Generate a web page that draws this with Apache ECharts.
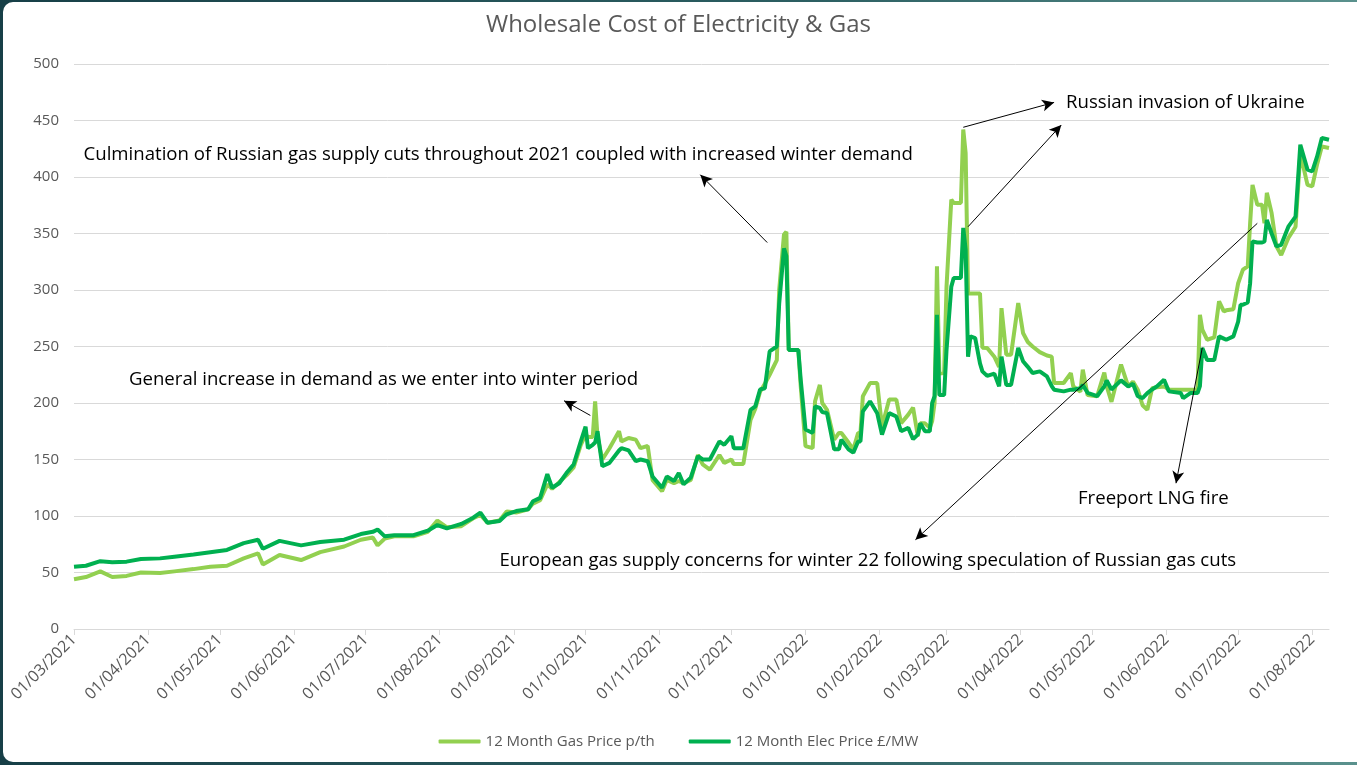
<!DOCTYPE html>
<html><head><meta charset="utf-8">
<script src="https://cdn.jsdelivr.net/npm/echarts@6/dist/echarts.min.js"></script>
<style>
html,body{margin:0;padding:0;width:1357px;height:765px;overflow:hidden;background:linear-gradient(90deg,#173f47 0%,#2c5f62 60%,#5a918d 100%);}
#card{position:absolute;left:3px;top:2px;width:1364px;height:760px;background:#fff;border-radius:10px;}
#chart{position:absolute;left:0;top:0;width:1357px;height:765px;}
</style></head><body>
<div id="card"></div><div id="chart"></div>
<script>
const dates = ['2021-03-01','2021-03-06','2021-03-12','2021-03-17','2021-03-23','2021-03-29','2021-04-06','2021-04-12','2021-04-20','2021-04-27',
'2021-05-04','2021-05-11','2021-05-17','2021-05-19','2021-05-26','2021-06-04','2021-06-12','2021-06-22','2021-06-29','2021-07-04',
'2021-07-06','2021-07-09','2021-07-13','2021-07-21','2021-07-27','2021-07-31','2021-08-04','2021-08-10','2021-08-15','2021-08-18',
'2021-08-21','2021-08-26','2021-08-29','2021-09-02','2021-09-07','2021-09-09','2021-09-12','2021-09-15','2021-09-17','2021-09-20',
'2021-09-23','2021-09-26','2021-09-29','2021-10-01','2021-10-02','2021-10-04','2021-10-05','2021-10-06','2021-10-08','2021-10-11',
'2021-10-15','2021-10-16','2021-10-19','2021-10-22','2021-10-24','2021-10-27','2021-10-29','2021-11-02','2021-11-04','2021-11-07',
'2021-11-09','2021-11-11','2021-11-14','2021-11-17','2021-11-19','2021-11-22','2021-11-26','2021-11-28','2021-12-01','2021-12-02',
'2021-12-06','2021-12-09','2021-12-11','2021-12-13','2021-12-15','2021-12-17','2021-12-20','2021-12-21','2021-12-23','2021-12-24',
'2021-12-25','2021-12-29','2021-12-30','2022-01-01','2022-01-04','2022-01-05','2022-01-07','2022-01-08','2022-01-10','2022-01-13',
'2022-01-15','2022-01-16','2022-01-19','2022-01-21','2022-01-23','2022-01-24','2022-01-25','2022-01-28','2022-01-31','2022-02-02',
'2022-02-05','2022-02-08','2022-02-10','2022-02-13','2022-02-15','2022-02-17','2022-02-18','2022-02-20','2022-02-22','2022-02-23',
'2022-02-24','2022-02-25','2022-02-26','2022-02-28','2022-03-01','2022-03-03','2022-03-04','2022-03-07','2022-03-08','2022-03-09',
'2022-03-10','2022-03-11','2022-03-13','2022-03-15','2022-03-16','2022-03-18','2022-03-21','2022-03-23','2022-03-24','2022-03-26',
'2022-03-28','2022-03-31','2022-04-02','2022-04-04','2022-04-06','2022-04-09','2022-04-12','2022-04-14','2022-04-15','2022-04-19',
'2022-04-22','2022-04-23','2022-04-26','2022-04-27','2022-04-29','2022-05-03','2022-05-06','2022-05-07','2022-05-09','2022-05-13',
'2022-05-16','2022-05-18','2022-05-20','2022-05-22','2022-05-24','2022-05-26','2022-05-28','2022-05-31','2022-06-02','2022-06-07',
'2022-06-08','2022-06-11','2022-06-14','2022-06-15','2022-06-16','2022-06-18','2022-06-21','2022-06-23','2022-06-25','2022-06-26',
'2022-06-29','2022-07-01','2022-07-02','2022-07-03','2022-07-05','2022-07-06','2022-07-07','2022-07-09','2022-07-11','2022-07-12',
'2022-07-13','2022-07-15','2022-07-17','2022-07-19','2022-07-22','2022-07-25','2022-07-27','2022-07-30','2022-08-01','2022-08-03',
'2022-08-05','2022-08-08'];

const gasPrice = [44,46,51,46,47,50,49.5,51,53,55,
56,62.5,67,57,65.5,61,68,73,79,81,
74,80,82,82,86,96,90,91,98,101,
94,96,104,103,106,111,114,128,124,130,
136,143,163,172,170,170,201.5,170,150,160,
175,166,169,167.6,160,162,132,122,132,129,
131,129,132,154,145.6,141,154,147,150,146,
146,185,195,210,217,225,238,300,349,351.5,
247,247,215,161.8,160,201.5,216,200,194,167.6,
173.5,173.5,165,159,173.5,173.5,206,217.6,217.6,179,
203,203,182,189.7,196,170.6,182,182,178,184,
200,321,226,226.5,303,380,377,377,442,421,
297,297,297,297,249,248.7,241,232,284,242.8,
242.8,288.5,262,254,250,245,242,241,217.7,217.7,
226.5,214.7,210,229.5,207,206,227,215,201,234,
214.7,219,211.8,198,194,213,214,214.7,212,211.8,
211.8,211.8,211.8,278,265,256,258,290,281,282,
283,306,312,318,321,359,393,375.5,375.5,359,
386,368,338.6,331,346,356,421,393,391.7,411,
427,425.7];

const elecPrice = [55,56,60,59,59.6,62,62.5,64,66,68,
70,76,79,71,78,74,77,79,84,86,
88,82,83,83,87,92,89,93,98.5,103,
94,95.6,101.5,104.4,106,113,116,137,125,129,
138,145.6,166,179,160,163,165,175,144,147,
158,160,158,148.5,150,148.5,135,125,135,131,
138,128,134,153,150,150,166,163,170.6,160,
160,194,197,212,213,245.6,250,288,336.8,330,
247,247,220.6,176.5,173.5,197,195.6,192,191,159,
159,167.6,159,156,166,166,192.6,201.5,191,172,
191,188,175,178,168,172,182,175,175,200,
206,278,207,207,247,303,310.6,310.6,355,335.7,
241,259,257.5,235,228,224,226,214.7,241,216,
216,248.7,237,232,226.5,228,223.6,215,211.8,210.3,
211.8,211.8,213,216,209,206,214.7,220,212,220,
214.7,217,206,204.4,208.8,212,214.7,220.6,210.3,208.8,
204.4,208.8,208.8,215,248.7,238,238,259,257,256,
259,272,287,287,289,306,343,342,342,343,
362,350,338.6,340,356,365,428.6,406.5,405,418,
434.5,433];

const monthTicks = ['2021-03-01','2021-04-01','2021-05-01','2021-06-01','2021-07-01','2021-08-01','2021-09-01','2021-10-01','2021-11-01',
'2021-12-01','2022-01-01','2022-02-01','2022-03-01','2022-04-01','2022-05-01','2022-06-01','2022-07-01','2022-08-01'];

const seriesNames = ['12 Month Gas Price p/th','12 Month Elec Price £/MW'];
const titleText = 'Wholesale Cost of Electricity & Gas';

const notes = [
  {text:'Culmination of Russian gas supply cuts throughout 2021 coupled with increased winter demand', at:['2021-03-05',419.5]},
  {text:'General increase in demand as we enter into winter period', at:['2021-03-24',220.4]},
  {text:'Russian invasion of Ukraine', at:['2022-04-20',465.5]},
  {text:'Freeport LNG fire', at:['2022-04-25',115]},
  {text:'European gas supply concerns for winter 22 following speculation of Russian gas cuts', at:['2021-08-26',60.2]}
];
const arrows = [
  {from:['2021-12-16',342], to:['2021-11-18',402]},
  {from:['2021-10-03',189], to:['2021-09-22',202]},
  {from:['2022-03-08',444], to:['2022-04-15',466]},
  {from:['2022-03-10',356], to:['2022-04-18',446]},
  {from:['2022-07-09',359], to:['2022-02-16',79]},
  {from:['2022-06-16',249], to:['2022-06-05',129]}
];

const t = s => echarts.number.parseDate(s).getTime();
const tickVals = monthTicks.map(t);
const FONT = 'Open Sans';
const pad2 = n => (n < 10 ? '0' : '') + n;
const fmtDate = v => { const d = new Date(v); return pad2(d.getDate()) + '/' + pad2(d.getMonth() + 1) + '/' + d.getFullYear(); };

const chart = echarts.init(document.getElementById('chart'), null, {renderer:'canvas'});
chart.setOption({
  animation:false,
  backgroundColor:'transparent',
  title:{text:titleText, left:'center', top:8, textStyle:{color:'#595959', fontSize:24, fontWeight:'normal', fontFamily:FONT}},
  legend:{bottom:11, left:'center', itemWidth:42, itemHeight:4, itemGap:34, icon:'roundRect',
    textStyle:{color:'#595959', fontSize:15, fontFamily:FONT}, data:seriesNames},
  grid:{left:74, right:28, top:64, bottom:136},
  xAxis:{type:'value', min:t('2021-03-01'), max:t('2022-08-08'),
    axisLine:{show:true, onZero:false, lineStyle:{color:'#d9d9d9', width:1}},
    axisTick:{show:true, customValues:tickVals, length:6, lineStyle:{color:'#d9d9d9'}},
    axisLabel:{customValues:tickVals, rotate:45, margin:8, color:'#595959', fontSize:16, fontFamily:FONT,
      formatter:fmtDate},
    splitLine:{show:false}},
  yAxis:{type:'value', min:0, max:500, interval:50,
    axisLine:{show:false}, axisTick:{show:false},
    axisLabel:{color:'#595959', fontSize:15, fontFamily:FONT, margin:15},
    splitLine:{lineStyle:{color:'#d9d9d9', width:1}}},
  series:[
    {name:seriesNames[0], type:'line', symbol:'none', showSymbol:false, color:'#92d050',
      lineStyle:{width:4, color:'#92d050'}, emphasis:{disabled:true},
      data:dates.map((d,i)=>[t(d),gasPrice[i]])},
    {name:seriesNames[1], type:'line', symbol:'none', showSymbol:false, color:'#00b050',
      lineStyle:{width:4, color:'#00b050'}, emphasis:{disabled:true},
      data:dates.map((d,i)=>[t(d),elecPrice[i]]),
      markLine:{silent:true, animation:false, symbol:['none','arrow'], symbolSize:[9,12],
        lineStyle:{color:'#000', width:1, type:'solid'}, label:{show:false}, emphasis:{disabled:true},
        data:arrows.map(a=>[{coord:[t(a.from[0]),a.from[1]]},{coord:[t(a.to[0]),a.to[1]]}])},
      markPoint:{silent:true, animation:false, symbol:'circle', symbolSize:0, itemStyle:{color:'transparent'},
        label:{show:true, position:'right', distance:0, formatter:'{b}', color:'#000', fontSize:18.6, fontFamily:FONT},
        emphasis:{disabled:true},
        data:notes.map(n=>({name:n.text, coord:[t(n.at[0]),n.at[1]]}))}
    }
  ]
});
</script></body></html>
